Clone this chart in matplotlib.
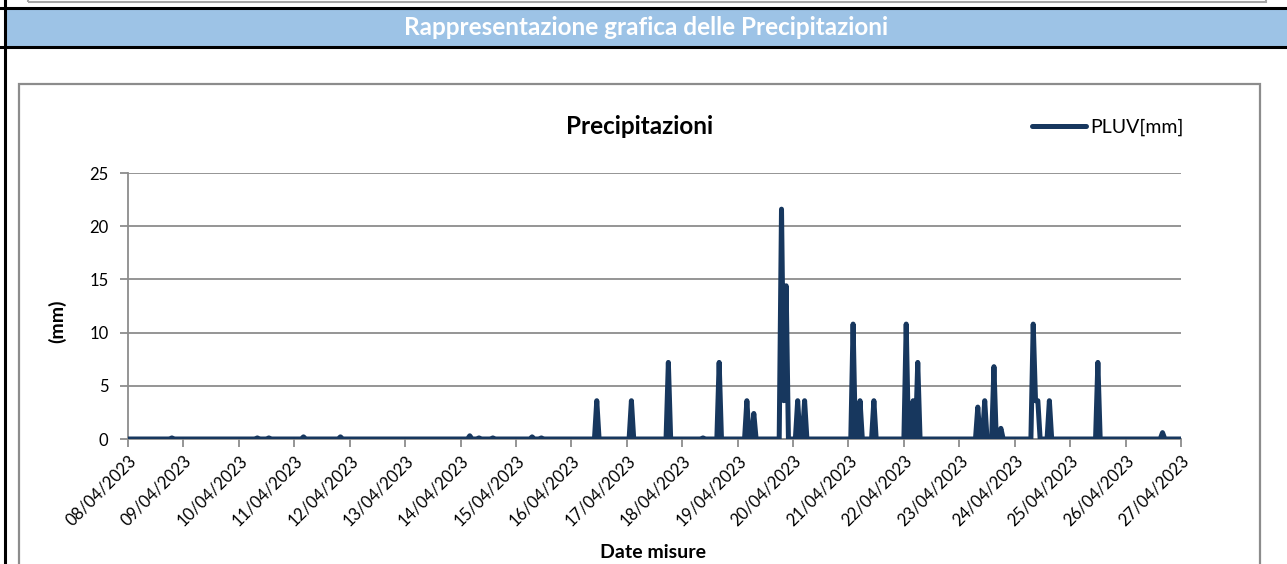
import numpy as np
import pandas as pd
import matplotlib
matplotlib.use('Agg')
from matplotlib import pyplot as plt
import matplotlib.dates as mdates
from matplotlib.patches import Rectangle
from matplotlib.lines import Line2D

plt.rcParams['font.family'] = ['Lato', 'DejaVu Sans']

# hourly readings, 08/04/2023 00:00 -> 27/04/2023 00:00, zero where not listed
start = '2023-04-08 00:00'
end = '2023-04-27 00:00'
rain_times = ['2023-04-08 19:00', '2023-04-10 08:00', '2023-04-10 13:00',
              '2023-04-11 04:00', '2023-04-11 20:00', '2023-04-14 04:00',
              '2023-04-14 08:00', '2023-04-14 14:00', '2023-04-15 07:00',
              '2023-04-15 11:00', '2023-04-16 11:00', '2023-04-17 02:00',
              '2023-04-17 18:00', '2023-04-18 09:00', '2023-04-18 16:00',
              '2023-04-19 04:00', '2023-04-19 07:00', '2023-04-19 19:00',
              '2023-04-19 20:00', '2023-04-19 21:00', '2023-04-20 02:00',
              '2023-04-20 05:00', '2023-04-21 02:00', '2023-04-21 05:00',
              '2023-04-21 11:00', '2023-04-22 01:00', '2023-04-22 04:00',
              '2023-04-22 06:00', '2023-04-23 08:00', '2023-04-23 11:00',
              '2023-04-23 15:00', '2023-04-23 18:00', '2023-04-24 08:00',
              '2023-04-24 09:00', '2023-04-24 10:00', '2023-04-24 15:00',
              '2023-04-25 12:00', '2023-04-26 16:00']
rain_mm = [0.1, 0.1, 0.1,
           0.2, 0.2, 0.3,
           0.1, 0.1, 0.2,
           0.1, 3.6, 3.6,
           7.2, 0.1, 7.2,
           3.6, 2.4, 21.6,
           3.6, 14.4, 3.6,
           3.6, 10.8, 3.6,
           3.6, 10.8, 3.6,
           7.2, 3.0, 3.6,
           6.8, 1.0, 10.8,
           3.6, 3.6, 3.6,
           7.2, 0.6]

hours = pd.date_range(start, end, freq='h')
pluv = pd.Series(0.0, index=hours)
pluv[pd.to_datetime(rain_times)] = rain_mm

W, H = 1287, 564
fig = plt.figure(figsize=(W / 100, H / 100), dpi=100)

def fx(px):
    return px / W

def fy(py):
    return 1 - py / H

# page decorations (spreadsheet cells around the chart)
fig.patches.append(Rectangle((fx(28), fy(2)), fx(1266 - 28), 0.05, transform=fig.transFigure,
                             fill=False, edgecolor='#a6a6a6', lw=1.5))
fig.patches.append(Rectangle((fx(6), fy(46.5)), 1, (46.5 - 7.5) / H, transform=fig.transFigure,
                             facecolor='#9dc3e6', edgecolor='none'))
fig.lines.append(Line2D([0, 1], [fy(7.5), fy(7.5)], transform=fig.transFigure, color='black', lw=2.2))
fig.lines.append(Line2D([0, 1], [fy(46.5), fy(46.5)], transform=fig.transFigure, color='black', lw=2.2))
fig.lines.append(Line2D([fx(5), fx(5)], [0, 1], transform=fig.transFigure, color='black', lw=2.2))
fig.text(fx(646), fy(27.5), 'Rappresentazione grafica delle Precipitazioni', ha='center', va='center',
         color='white', fontsize=17.5, fontweight='bold')

# chart area border
fig.patches.append(Rectangle((fx(19), fy(600)), fx(1260 - 19), (600 - 84) / H, transform=fig.transFigure,
                             fill=False, edgecolor='#8c8c8c', lw=1.6))

ax = fig.add_axes([fx(128), fy(439), fx(1181 - 128), (439 - 173) / H])
ax.plot(pluv.index, pluv.values, color='#17375e', lw=3.6, solid_joinstyle='round',
        solid_capstyle='round', label='PLUV[mm]', zorder=3)

ax.set_ylim(0, 25)
ax.set_yticks(np.arange(0, 26, 5))
ax.set_xlim(pd.Timestamp(start), pd.Timestamp(end))
ax.xaxis.set_major_locator(mdates.DayLocator())
ax.xaxis.set_major_formatter(mdates.DateFormatter('%d/%m/%Y'))
ax.grid(axis='y', color='#8c8c8c', lw=1.3)
ax.set_axisbelow(True)
for s in ['top', 'right']:
    ax.spines[s].set_visible(False)
ax.spines['left'].set_color('#8c8c8c')
ax.spines['bottom'].set_color('#8c8c8c')
ax.spines['left'].set_linewidth(1.3)
ax.spines['bottom'].set_linewidth(1.3)
ax.tick_params(axis='both', colors='#8c8c8c', width=1.3, length=6, labelcolor='black', labelsize=12)
ax.tick_params(axis='y', pad=8)
plt.setp(ax.get_xticklabels(), rotation=45, ha='right', rotation_mode='anchor')

fig.text(fx(57), fy(321), '(mm)', rotation=90, ha='center', va='center', fontsize=14, fontweight='bold')
fig.text(fx(653), fy(552), 'Date misure', ha='center', va='center', fontsize=14, fontweight='bold')
fig.text(fx(640), fy(127), 'Precipitazioni', ha='center', va='center', fontsize=17.5, fontweight='bold')

ax.legend(loc='center left', bbox_to_anchor=(fx(1032), fy(127)), bbox_transform=fig.transFigure,
          frameon=False, fontsize=14, handlelength=2.8, handletextpad=0.2, borderpad=0,
          borderaxespad=0)

fig.savefig('out.png', dpi=100)
